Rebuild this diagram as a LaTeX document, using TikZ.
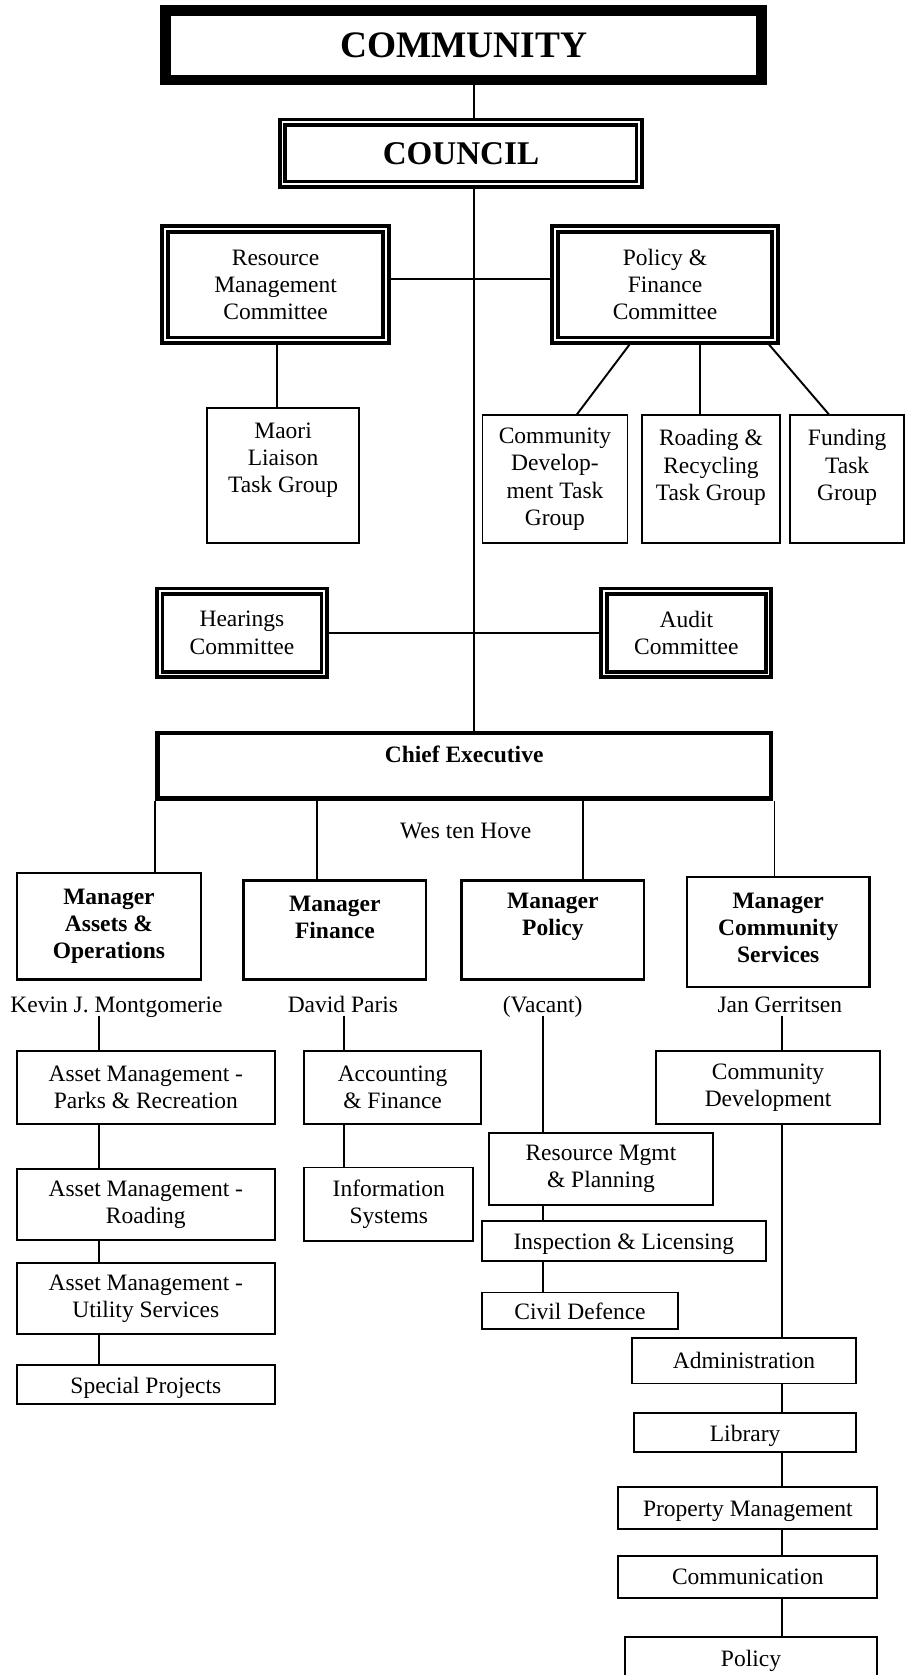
\documentclass[tikz,border=0pt]{standalone}
\usepackage{fontspec}
\setmainfont{Liberation Serif}
\begin{document}
\begin{tikzpicture}[x=1pt,y=-1pt,
  every node/.style={inner sep=0pt, align=center, font=\fontsize{22}{25.5}\selectfont},
  bold/.style={font=\fontsize{22}{25.5}\selectfont\bfseries},
  topbox/.style={draw, line width=10pt, font=\fontsize{35}{40}\selectfont\bfseries},
  tribox/.style={draw, line width=3.6pt, double, double distance=1.6pt},
  cebox/.style={draw, line width=4.5pt},
  mgrbox/.style={draw, line width=2.2pt},
  subbox/.style={draw, line width=1.8pt},
  thinbox/.style={draw, line width=1.5pt},
  sgl/.style={text height=19pt, text depth=3pt},
  namet/.style={text height=18pt, text depth=3pt},
  conn/.style={line width=1.8pt}
]
\useasboundingbox (0,0) rectangle (854,1568);
\fill[white] (0,0) rectangle (854,1568);
\clip (0,0) rectangle (854,1568);

% spine and helper coordinates
\coordinate (sp) at (444,0);
\coordinate (h1) at (444,261);
\coordinate (x145) at (145,0);
\coordinate (x297) at (297,0);
\coordinate (x546) at (546,0);
\coordinate (x725) at (725,0);
\coordinate (x259) at (259,0);
\coordinate (d1) at (591,0);
\coordinate (d2) at (540,0);
\coordinate (v1) at (655,0);
\coordinate (d3) at (718,0);
\coordinate (d4) at (776,0);
\coordinate (x93) at (93,0);
\coordinate (x322) at (322,0);
\coordinate (x508) at (508,0);
\coordinate (x732) at (732,0);

% top
\node[topbox, minimum width=558pt, minimum height=65pt] (community) at (434,42.5) {COMMUNITY};
\node[tribox, minimum width=334pt, minimum height=58pt, font=\fontsize{31}{35}\selectfont\bfseries] (council) at (431.5,143.5) {COUNCIL};

% committees
\node[tribox, minimum width=207pt, minimum height=104pt] (rmc) at (258,266.5) {Resource\\Management\\Committee};
\node[tribox, minimum width=206pt, minimum height=104pt] (pfc) at (622.5,266.5) {Policy \&\\Finance\\Committee};

\node[thinbox, minimum width=142.5pt, minimum height=126.5pt,
  label={[yshift=14pt]center:Maori\\Liaison\\Task Group}] (maori) at (265,445) {};
\node[thinbox, minimum width=135.5pt, minimum height=119.5pt] (cdtg) at (519.5,448.5) {Community\\Develop-\\ment Task\\Group};
\node[thinbox, minimum width=129.5pt, minimum height=119.5pt,
  label={[yshift=11pt]center:Roading \&\\Recycling\\Task Group}] (rrtg) at (665.5,448.5) {};
\node[thinbox, minimum width=106.5pt, minimum height=119.5pt,
  label={[yshift=11pt]center:Funding\\Task\\Group}] (ftg) at (793,448.5) {};

\node[tribox, minimum width=154pt, minimum height=78pt] (hear) at (226.5,592.5) {Hearings\\Committee};
\node[tribox, minimum width=154pt, minimum height=78pt] (audit) at (642.5,592.5) {Audit\\Committee};

% chief executive
\node[cebox, minimum width=574.5pt, minimum height=61.5pt,
  label={[yshift=11pt, bold]center:Chief Executive}] (ce) at (434.5,717) {};
\node (wes) at (436,778) {Wes ten Hove};

% managers
\node[mgrbox, bold, minimum width=171.8pt, minimum height=99.8pt] (mao) at (102,867) {Manager\\Assets \&\\Operations};
\node[mgrbox, minimum width=170.8pt, minimum height=92.8pt,
  label={[yshift=12pt, bold]center:Manager\\Finance}] (mfin) at (313.5,870.5) {};
\node[mgrbox, minimum width=170.8pt, minimum height=92.8pt,
  label={[yshift=12pt, bold]center:Manager\\Policy}] (mpol) at (517.5,870.5) {};
\node[mgrbox, minimum width=170.8pt, minimum height=102.8pt,
  label={[yshift=4pt, bold]center:Manager\\Community\\Services}] (mcs) at (728.5,872.5) {};

% names
\node[namet] (kevin) at (109,940) {Kevin J. Montgomerie};
\node[namet] (david) at (321,940) {David Paris};
\node[namet] (vacant) at (508,940) {(Vacant)};
\node[namet] (jan) at (730,940) {Jan Gerritsen};

% assets column
\node[subbox, minimum width=241.2pt, minimum height=68.2pt] (ampr) at (136.5,1018) {Asset Management -\\Parks \& Recreation};
\node[subbox, minimum width=241.2pt, minimum height=67.2pt] (amr) at (136.5,1127.5) {Asset Management -\\Roading};
\node[subbox, minimum width=241.2pt, minimum height=67.2pt] (amu) at (136.5,1215.5) {Asset Management -\\Utility Services};
\node[subbox, sgl, minimum width=241.2pt, minimum height=36.2pt] (spr) at (136.5,1296) {Special Projects};

% finance column
\node[subbox, minimum width=165.2pt, minimum height=68.2pt] (acc) at (367.5,1018) {Accounting\\\& Finance};
\node[subbox, minimum width=158.2pt, minimum height=69.2pt] (info) at (364,1127.5) {Information\\Systems};

% policy column
\node[subbox, minimum width=209.2pt, minimum height=67.2pt] (rmp) at (562.5,1094.5) {Resource Mgmt\\\& Planning};
\node[subbox, sgl, minimum width=266.2pt, minimum height=37.2pt] (insp) at (584,1161.5) {Inspection \& Licensing};
\node[subbox, sgl, minimum width=184.2pt, minimum height=34.2pt] (cdef) at (543,1227) {Civil Defence};

% community column
\node[subbox, minimum width=210.2pt, minimum height=68.2pt] (comdev) at (719,1018) {Community\\Development};
\node[subbox, minimum width=209.2pt, minimum height=42.2pt] (admin) at (696.5,1274) {Administration};
\node[subbox, sgl, minimum width=207.2pt, minimum height=36.2pt] (lib) at (697.5,1341) {Library};
\node[subbox, sgl, minimum width=242.2pt, minimum height=39.2pt] (prop) at (700,1411.5) {Property Management};
\node[subbox, minimum width=242.2pt, minimum height=39.2pt] (comm) at (700,1476.5) {Communication};
\node[subbox, minimum width=236.2pt, minimum height=46pt] (pol) at (703,1555) {Policy};

% connectors
\draw[conn] (community.south -| sp) -- (council.north -| sp);
\draw[conn] (council.south -| sp) -- (ce.north -| sp);
\draw[conn] (rmc.east |- h1) -- (pfc.west |- h1);
\draw[conn] (hear.east) -- (audit.west);
\draw[conn] (rmc.south -| x259) -- (maori.north -| x259);
\draw[conn] (pfc.south -| d1) -- (cdtg.north -| d2);
\draw[conn] (pfc.south -| v1) -- (rrtg.north -| v1);
\draw[conn] (pfc.south -| d3) -- (ftg.north -| d4);

\draw[conn] (ce.south -| x145) -- (mao.north -| x145);
\draw[conn] (ce.south -| x297) -- (mfin.north -| x297);
\draw[conn] (ce.south -| x546) -- (mpol.north -| x546);
\draw[conn] (ce.south -| x725) -- (mcs.north -| x725);

\draw[conn] (kevin.south -| x93) -- (ampr.north -| x93);
\draw[conn] (ampr.south -| x93) -- (amr.north -| x93);
\draw[conn] (amr.south -| x93) -- (amu.north -| x93);
\draw[conn] (amu.south -| x93) -- (spr.north -| x93);

\draw[conn] (david.south -| x322) -- (acc.north -| x322);
\draw[conn] (acc.south -| x322) -- (info.north -| x322);

\draw[conn] (vacant.south -| x508) -- (rmp.north -| x508);
\draw[conn] (rmp.south -| x508) -- (insp.north -| x508);
\draw[conn] (insp.south -| x508) -- (cdef.north -| x508);

\draw[conn] (jan.south -| x732) -- (comdev.north -| x732);
\draw[conn] (comdev.south -| x732) -- (admin.north -| x732);
\draw[conn] (admin.south -| x732) -- (lib.north -| x732);
\draw[conn] (lib.south -| x732) -- (prop.north -| x732);
\draw[conn] (prop.south -| x732) -- (comm.north -| x732);
\draw[conn] (comm.south -| x732) -- (pol.north -| x732);
\end{tikzpicture}
\end{document}
